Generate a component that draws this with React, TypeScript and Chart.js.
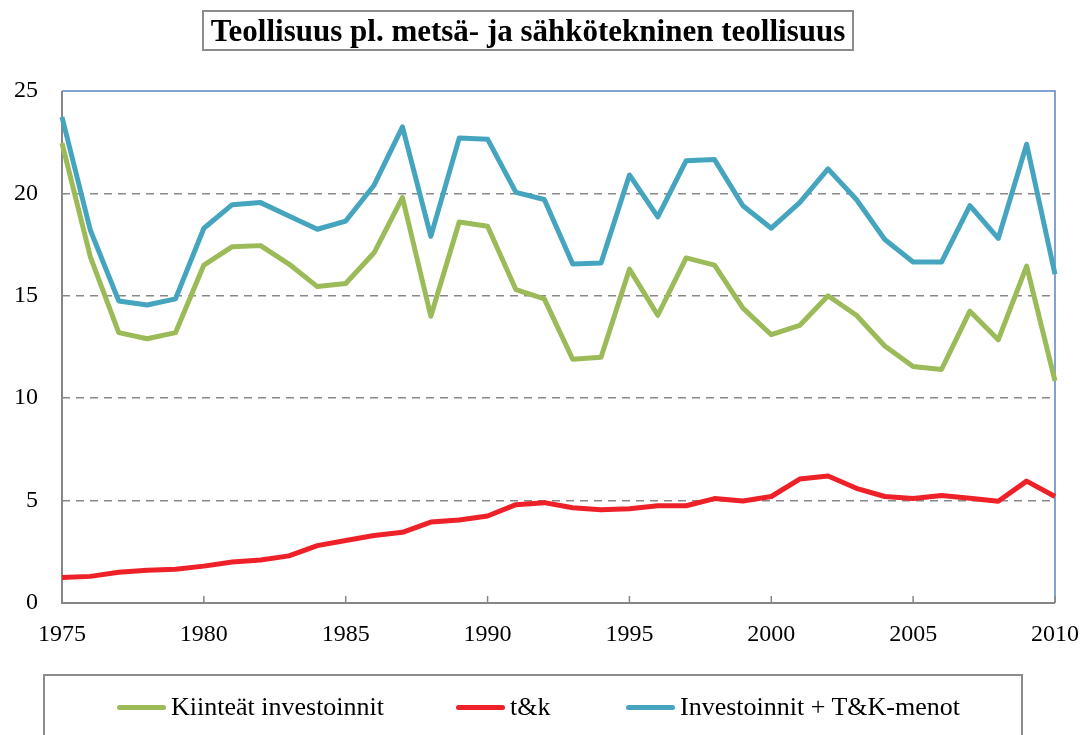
import React, { useEffect, useRef } from "react";
import { Chart, registerables } from "chart.js";

Chart.register(...registerables);

const years = [
  1975, 1976, 1977, 1978, 1979, 1980, 1981, 1982, 1983, 1984, 1985, 1986,
  1987, 1988, 1989, 1990, 1991, 1992, 1993, 1994, 1995, 1996, 1997, 1998,
  1999, 2000, 2001, 2002, 2003, 2004, 2005, 2006, 2007, 2008, 2009, 2010,
];

const kiinteat = [
  22.45, 16.9, 13.2, 12.9, 13.2, 16.5, 17.4, 17.45, 16.55, 15.45, 15.6, 17.1,
  19.8, 14.0, 18.6, 18.4, 15.3, 14.85, 11.9, 12.0, 16.3, 14.05, 16.85, 16.5,
  14.4, 13.1, 13.55, 15.0, 14.05, 12.55, 11.55, 11.4, 14.25, 12.85, 16.45, 10.85,
];

const tk = [
  1.25, 1.3, 1.5, 1.6, 1.65, 1.8, 2.0, 2.1, 2.3, 2.8, 3.05, 3.3,
  3.45, 3.95, 4.05, 4.25, 4.8, 4.9, 4.65, 4.55, 4.6, 4.75, 4.75, 5.1,
  4.98, 5.2, 6.05, 6.2, 5.6, 5.2, 5.1, 5.25, 5.12, 4.97, 5.95, 5.2,
];

const investoinnitTk = [
  23.73, 18.2, 14.75, 14.55, 14.85, 18.3, 19.45, 19.55, 18.9, 18.25, 18.65, 20.4,
  23.25, 17.9, 22.7, 22.65, 20.05, 19.7, 16.55, 16.6, 20.9, 18.85, 21.6, 21.65,
  19.4, 18.3, 19.55, 21.2, 19.7, 17.75, 16.65, 16.65, 19.4, 17.8, 22.4, 16.05,
];

const seriesLabels = ["Kiinteät investoinnit", "t&k", "Investoinnit + T&K-menot"];
const seriesColors = ["#9BBB59", "#EE2129", "#45A5BF"];
const titleText = "Teollisuus pl. metsä- ja sähkötekninen teollisuus";

const FONT = "'Liberation Serif', 'Times New Roman', serif";

const framePlugin = {
  id: "frame",
  beforeDatasetsDraw(chart: any) {
    const { ctx, chartArea } = chart;
    const { left, right, top, bottom } = chartArea;
    const xs = chart.scales.x;
    ctx.save();
    ctx.strokeStyle = "#5B84C4";
    ctx.lineWidth = 1.5;
    ctx.beginPath();
    ctx.moveTo(left, top);
    ctx.lineTo(right, top);
    ctx.lineTo(right, bottom);
    ctx.stroke();
    ctx.strokeStyle = "#868686";
    ctx.lineWidth = 2;
    ctx.beginPath();
    ctx.moveTo(left, top);
    ctx.lineTo(left, bottom);
    ctx.lineTo(right, bottom);
    ctx.stroke();
    ctx.lineWidth = 1.5;
    for (let yr = 1980; yr <= 2010; yr += 5) {
      const px = xs.getPixelForValue(yr);
      ctx.beginPath();
      ctx.moveTo(px, bottom);
      ctx.lineTo(px, bottom - 7);
      ctx.stroke();
    }
    ctx.restore();
  },
};

export default function App() {
  const canvasRef = useRef<HTMLCanvasElement | null>(null);

  useEffect(() => {
    document.body.style.margin = "0";
    const canvas = canvasRef.current;
    if (!canvas) return;
    const series = [kiinteat, tk, investoinnitTk];
    const chart = new Chart(canvas, {
      type: "line",
      data: {
        datasets: series.map((s, i) => ({
          label: seriesLabels[i],
          data: years.map((y, j) => ({ x: y, y: s[j] })),
          borderColor: seriesColors[i],
          backgroundColor: seriesColors[i],
          borderWidth: 5,
          pointRadius: 0,
          tension: 0,
          borderJoinStyle: "round" as const,
          clip: false as any,
        })),
      },
      options: {
        animation: false,
        responsive: false,
        maintainAspectRatio: false,
        layout: { padding: { left: 0, right: 29, top: 91, bottom: 0 } },
        plugins: {
          legend: { display: false },
          title: { display: false },
          tooltip: { enabled: false },
        },
        scales: {
          x: {
            type: "linear",
            min: 1975,
            max: 2010,
            afterFit: (s: any) => {
              s.height = 132;
              s.paddingLeft = 0;
              s.paddingRight = 0;
            },
            ticks: {
              stepSize: 5,
              color: "#000",
              font: { family: FONT, size: 24 },
              padding: 17,
              maxRotation: 0,
              callback: (v: any) => String(v),
            },
            grid: { display: false, drawTicks: false },
            border: { display: false },
          },
          y: {
            min: 0,
            max: 25,
            afterFit: (s: any) => {
              s.width = 62;
            },
            ticks: {
              stepSize: 5,
              color: "#000",
              font: { family: FONT, size: 24 },
              padding: 24,
            },
            grid: {
              drawTicks: false,
              color: (c: any) =>
                c.tick && (c.tick.value === 0 || c.tick.value === 25)
                  ? "rgba(0,0,0,0)"
                  : "#888888",
              lineWidth: 1.5,
            },
            border: { display: false, dash: [8, 6] },
          },
        },
      },
      plugins: [framePlugin],
    });
    return () => chart.destroy();
  }, []);

  const legendItem = (i: number, lineLeft: number) => (
    <div
      key={i}
      style={{
        position: "absolute",
        left: lineLeft,
        top: 690,
        height: 34,
        display: "flex",
        alignItems: "center",
        whiteSpace: "nowrap",
      }}
    >
      <div
        style={{
          width: 49,
          height: 5,
          borderRadius: 2.5,
          background: seriesColors[i],
          marginRight: 5,
        }}
      />
      <span style={{ fontFamily: FONT, fontSize: 26, color: "#000" }}>
        {seriesLabels[i]}
      </span>
    </div>
  );

  return (
    <div
      style={{
        position: "relative",
        width: 1084,
        height: 735,
        overflow: "hidden",
        background: "#fff",
      }}
    >
      <canvas
        ref={canvasRef}
        width={1084}
        height={735}
        style={{ position: "absolute", left: 0, top: 0, width: 1084, height: 735 }}
      />
      <div
        style={{
          position: "absolute",
          left: 202,
          top: 10,
          width: 652,
          height: 41,
          border: "2px solid #8c8c8c",
          boxSizing: "border-box",
          display: "flex",
          alignItems: "center",
          justifyContent: "center",
          fontFamily: FONT,
          fontWeight: "bold",
          fontSize: 31,
          color: "#000",
          whiteSpace: "nowrap",
        }}
      >
        {titleText}
      </div>
      <div
        style={{
          position: "absolute",
          left: 43,
          top: 674,
          width: 980,
          height: 80,
          border: "2px solid #8c8c8c",
          boxSizing: "border-box",
        }}
      />
      {legendItem(0, 117)}
      {legendItem(1, 456)}
      {legendItem(2, 626)}
    </div>
  );
}
